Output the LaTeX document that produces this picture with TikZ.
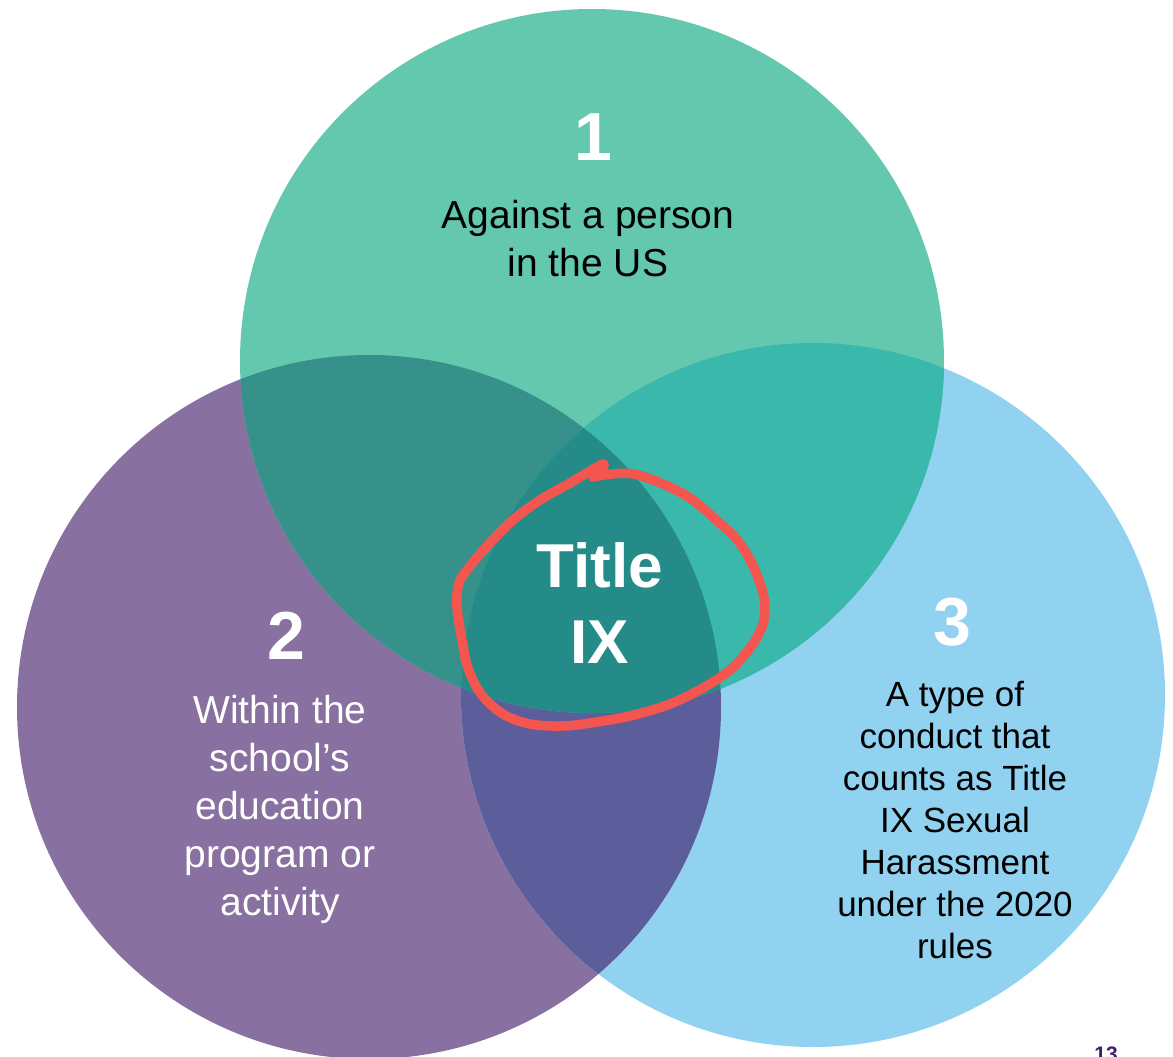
\documentclass[tikz,border=0pt]{standalone}
\usepackage{fontspec}
\setmainfont{Liberation Sans}
\definecolor{cG}{HTML}{64C8AF}
\definecolor{cP}{HTML}{8870A0}
\definecolor{cB}{HTML}{92D2F1}
\definecolor{cGP}{HTML}{35918A}
\definecolor{cGB}{HTML}{3AB8AC}
\definecolor{cPB}{HTML}{5C5D9B}
\definecolor{cGPB}{HTML}{248B88}
\definecolor{cRed}{HTML}{F4564F}
\definecolor{cPage}{HTML}{3D1E6D}
\tikzset{
  numtxt/.style={text=white, font=\fontsize{68}{80}\selectfont\bfseries, inner sep=0pt},
  bodytxt/.style={text=white, font=\fontsize{39}{48}\selectfont, align=center, inner sep=0pt},
  darktxt/.style={text=black, font=\fontsize{39}{48}\selectfont, align=center, inner sep=0pt},
  smalltxt/.style={text=black, font=\fontsize{35}{42}\selectfont, align=center, inner sep=0pt},
  titletxt/.style={text=white, font=\fontsize{62}{76}\selectfont\bfseries, align=center, inner sep=0pt},
  redloop/.style={draw=cRed, line width=9.5pt, line cap=round, line join=round}
}
\begin{document}
\begin{tikzpicture}[x=1pt,y=-1pt]
\clip (0,0) rectangle (1173,1057);
\coordinate (cg) at (592,361);
\coordinate (cp) at (369,707);
\coordinate (cb) at (813,695);
\def\R{352pt}
% single circles
\fill[cP] (cp) circle[radius=\R];
\fill[cB] (cb) circle[radius=\R];
\fill[cG] (cg) circle[radius=\R];
% pairwise overlaps
\begin{scope}
  \clip (cp) circle[radius=\R];
  \fill[cPB] (cb) circle[radius=\R];
\end{scope}
\begin{scope}
  \clip (cg) circle[radius=\R];
  \fill[cGP] (cp) circle[radius=\R];
  \fill[cGB] (cb) circle[radius=\R];
\end{scope}
% triple overlap
\begin{scope}
  \clip (cg) circle[radius=\R];
  \clip (cp) circle[radius=\R];
  \fill[cGPB] (cb) circle[radius=\R];
\end{scope}
% texts
\node[numtxt] (n1) at (593,137) {1};
\node[darktxt] (t1) at (588,239) {Against a person\\in the US};
\node[numtxt] (n2) at (286,636) {2};
\node[bodytxt] (t2) at (280,809) {Within the\\school’s\\education\\program or\\activity};
\node[numtxt] (n3) at (952,622) {3};
\node[smalltxt] (t3) at (955,820) {A type of\\conduct that\\counts as Title\\IX Sexual\\Harassment\\under the 2020\\rules};
\node[titletxt] (tix) at (600,603) {Title\\IX};
\node[text=cPage, font=\fontsize{21}{24}\selectfont\bfseries, inner sep=0pt, anchor=north] (pg) at (1106,1047) {13};
% red hand-drawn loop
\draw[redloop] plot[smooth, tension=0.55] coordinates {
 (593,477) (612,474) (634,474) (663,484) (690,498) (714,518) (738,541)
 (754,568) (764,598) (763,624) (750,648) (730,670) (703,688) (670,704)
 (630,716) (590,723) (563,726) (530,724) (503,714) (481,694) (468,668)
 (462,640) (457,607) (459,583) (470,566) (490,543) (513,520) (540,500)
 (570,483) (603,464) (598,474)};
\end{tikzpicture}
\end{document}
